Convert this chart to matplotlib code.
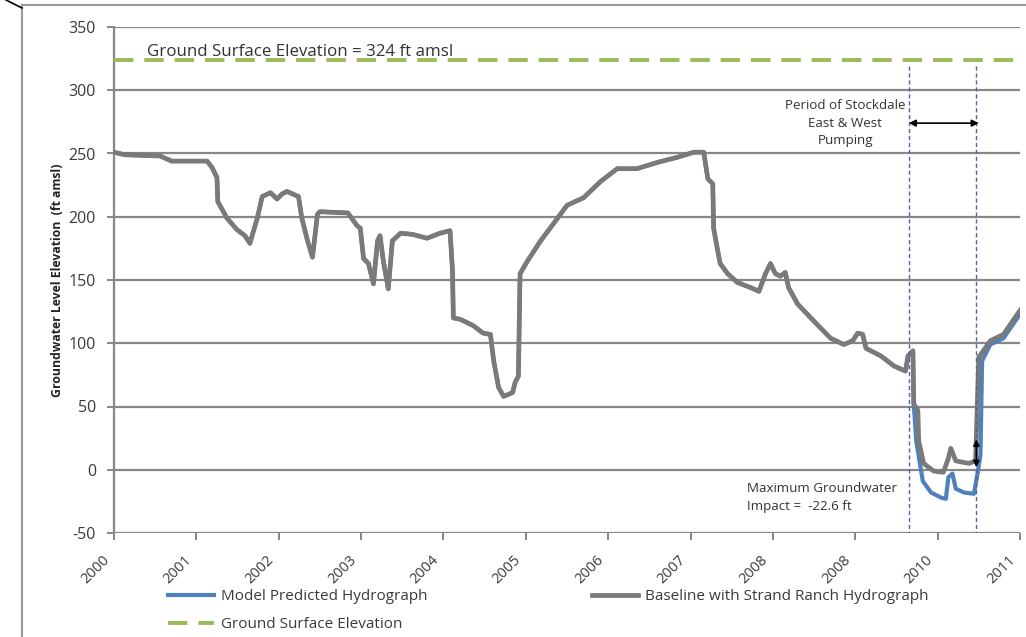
import matplotlib
matplotlib.use("Agg")
import matplotlib.pyplot as plt
from matplotlib.lines import Line2D
import matplotlib.transforms as mtransforms

plt.rcParams['font.family'] = ['Open Sans', 'DejaVu Sans']

# Baseline with Strand Ranch hydrograph (decimal year, ft amsl)
base_years = [2000.00, 2000.13, 2000.56, 2000.70, 2001.13, 2001.19, 2001.25, 2001.26, 2001.37,
              2001.49, 2001.59, 2001.65, 2001.74, 2001.80, 2001.90, 2001.98, 2002.04, 2002.10,
              2002.24, 2002.28, 2002.35, 2002.41, 2002.47, 2002.50, 2002.84, 2002.95, 2002.99,
              2003.03, 2003.09, 2003.15, 2003.20, 2003.23, 2003.27, 2003.33, 2003.38, 2003.48,
              2003.63, 2003.80, 2003.96, 2004.08, 2004.11, 2004.12, 2004.20, 2004.36, 2004.48,
              2004.57, 2004.61, 2004.67, 2004.73, 2004.84, 2004.87, 2004.91, 2004.93, 2005.02,
              2005.18, 2005.33, 2005.50, 2005.70, 2005.91, 2006.11, 2006.35, 2006.60, 2006.84,
              2007.04, 2007.16, 2007.21, 2007.27, 2007.28, 2007.33, 2007.36, 2007.45, 2007.57,
              2007.73, 2007.83, 2007.91, 2007.97, 2008.03, 2008.09, 2008.15, 2008.19, 2008.30,
              2008.49, 2008.70, 2008.86, 2008.97, 2009.03, 2009.09, 2009.13, 2009.31, 2009.47,
              2009.61, 2009.64, 2009.70,
              2009.71, 2009.76, 2009.77, 2009.83, 2009.95, 2010.07, 2010.13, 2010.16, 2010.22,
              2010.38, 2010.46, 2010.50, 2010.64, 2010.80, 2011.00]
base_vals = [251, 249, 248, 244, 244, 239, 231, 212, 199,
             190, 185, 179, 199, 216, 219, 214, 218, 220,
             216, 199, 181, 168, 202, 204, 203, 193, 191,
             167, 163, 147, 181, 185, 165, 143, 181, 187,
             186, 183, 187, 189, 157, 120, 119, 114, 108,
             107, 86, 65, 58, 61, 69, 74, 155, 165,
             181, 194, 209, 215, 228, 238, 238, 243, 247,
             251, 251, 230, 226, 191, 173, 163, 155, 148,
             144, 141, 155, 163, 155, 153, 156, 144, 131,
             118, 104, 99, 102, 108, 107, 96, 90, 82,
             78, 90, 94,
             52, 47, 23, 5, -1, -2, 9, 17, 7,
             5, 7, 89, 102, 107, 126]

# Model predicted hydrograph: identical to baseline (hidden underneath) until pumping starts,
# then these values
n_same = 93
pump_years = [2009.71, 2009.74, 2009.82, 2009.92, 2010.04, 2010.10, 2010.13, 2010.18, 2010.22,
              2010.32, 2010.44, 2010.49, 2010.52, 2010.54, 2010.64, 2010.80, 2011.00]
pump_vals = [52, 23, -9, -18, -22, -23, -6, -3, -15,
             -18, -19, -1, 12, 86, 99, 104, 123]
model_years = base_years[:n_same] + pump_years
model_vals = base_vals[:n_same] + pump_vals

ground_elev = 324
pump_start, pump_end = 2009.65, 2010.47
impact_top, impact_bottom = 24, 2

xtick_pos = [2000, 2001, 2002, 2003, 2004, 2005, 2006, 2007, 2008, 2009, 2010, 2011]
xtick_labels = ['2000', '2001', '2002', '2003', '2004', '2005', '2006', '2007', '2008', '2008',
                '2010', '2011']
yticks = [-50, 0, 50, 100, 150, 200, 250, 300, 350]

fig = plt.figure(figsize=(10.26, 6.37), dpi=100)
ax = fig.add_axes([114/1026, 1-533/637, (1020-114)/1026, (533-27)/637])

grid_c = '#878787'
text_c = '#3a3a3a'
for y in yticks:
    ax.axhline(y, color=grid_c, lw=1.6, zorder=1)

ax.plot([2000, 2011], [ground_elev, ground_elev], color='#9BBB59', lw=2.8,
        dashes=(5, 2.8), zorder=3, label='Ground Surface Elevation')
lm, = ax.plot(model_years, model_vals, color='#4F81BD', lw=3, zorder=4,
              label='Model Predicted Hydrograph')
lb, = ax.plot(base_years, base_vals, color='#7A7A7A', lw=3.4, zorder=5,
              label='Baseline with Strand Ranch Hydrograph')

for xv in (pump_start, pump_end):
    ax.plot([xv, xv], [319, -50], color='#4A6A9A', lw=1, ls=(0, (3, 2)), zorder=6)

ax.annotate('', xy=(pump_start, 274), xytext=(pump_end + 0.03, 274),
            arrowprops=dict(arrowstyle='<|-|>', color='black', lw=1.2,
                            mutation_scale=10, shrinkA=0, shrinkB=0), zorder=7)
ax.annotate('', xy=(pump_end, impact_top), xytext=(pump_end, impact_bottom),
            arrowprops=dict(arrowstyle='<|-|>', color='black', lw=1.2,
                            mutation_scale=9, shrinkA=0, shrinkB=0), zorder=7)

ax.text(2000.40, 330, 'Ground Surface Elevation = 324 ft amsl', fontsize=12.2,
        color='#333333', va='center', ha='left', zorder=8)
ax.text(2008.88, 274, 'Period of Stockdale\nEast & West\nPumping', fontsize=9.6,
        color='#333333', va='center', ha='center', linespacing=1.45, zorder=8)
ax.text(2007.68, -22, 'Maximum Groundwater\nImpact =  -22.6 ft', fontsize=9.6,
        color='#333333', va='center', ha='left', linespacing=1.55, zorder=8)

ax.set_xlim(2000, 2011)
ax.set_ylim(-50, 350)
ax.set_xticks(xtick_pos)
ax.set_yticks(yticks)
ax.tick_params(axis='both', direction='out', length=5, width=1.4, color=grid_c)
ax.tick_params(axis='y', pad=8)
ax.tick_params(axis='x', pad=13)
ax.set_xticklabels(xtick_labels, rotation=45, ha='right', va='center',
                   rotation_mode='anchor', fontsize=10.5, color=text_c)
ax.set_yticklabels([str(v) for v in yticks], fontsize=11.5, color=text_c)
offset = mtransforms.ScaledTranslation(-7/100, 0, fig.dpi_scale_trans)
for tick in ax.xaxis.get_major_ticks():
    tick.label1.set_transform(tick.label1.get_transform() + offset)

for s in ('top', 'right', 'bottom'):
    ax.spines[s].set_visible(False)
ax.spines['left'].set_color(grid_c)
ax.spines['left'].set_linewidth(1.6)
ax.set_ylabel('Groundwater Level Elevation  (ft amsl)', fontsize=8.8, fontweight='bold',
              color='#222222')
ax.yaxis.set_label_coords(-(114-64)/906, 0.5)

gl = Line2D([], [], color='#9BBB59', lw=2.8, dashes=(5, 2.8))
leg1 = fig.legend([lm, gl], ['Model Predicted Hydrograph', 'Ground Surface Elevation'],
                  loc='upper left', bbox_to_anchor=(168/1026, 1-589/637), frameon=False,
                  fontsize=11, handlelength=3.0, handletextpad=0.45, labelspacing=0.85,
                  borderpad=0, borderaxespad=0, labelcolor=text_c)
leg2 = fig.legend([lb], ['Baseline with Strand Ranch Hydrograph'],
                  loc='upper left', bbox_to_anchor=(592/1026, 1-589/637), frameon=False,
                  fontsize=11, handlelength=3.0, handletextpad=0.45,
                  borderpad=0, borderaxespad=0, labelcolor=text_c)

# outer chart frame
fig.add_artist(Line2D([22/1026, 22/1026], [0, 1-5/637], color='#9A9A9A', lw=1.5))
fig.add_artist(Line2D([22/1026, 1], [1-5/637, 1-5/637], color='#9A9A9A', lw=1.5))
fig.add_artist(Line2D([6/1026, 22/1026], [1, 1-8/637], color='black', lw=1.2))

fig.savefig('out.png', dpi=100, facecolor='white')
